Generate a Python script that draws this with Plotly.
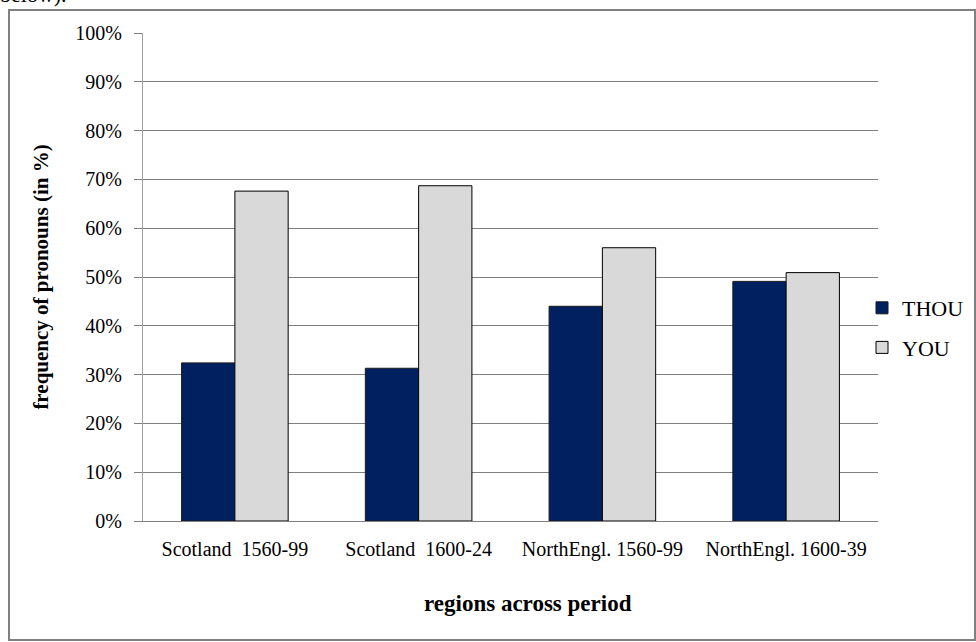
import plotly.graph_objects as go

# Share of THOU vs YOU pronouns per region and period
categories = ["Scotland  1560-99", "Scotland  1600-24", "NorthEngl. 1560-99", "NorthEngl. 1600-39"]
thou = [32.4, 31.3, 44.0, 49.1]
you = [67.6, 68.7, 56.0, 50.9]
y_ticks = [0, 10, 20, 30, 40, 50, 60, 70, 80, 90, 100]
y_tick_labels = [f"{v}%" for v in y_ticks]

W, H = 976, 642
L, R, T, B = 143, 98, 33, 121
pw, ph = W - L - R, H - T - B

def px_x(x):
    return (x - L) / pw

def px_y(y):
    return (H - B - y) / ph

serif = "Liberation Serif"

fig = go.Figure()
fig.add_trace(go.Bar(
    x=categories, y=thou, name="THOU", legendgroup="a",
    marker=dict(color="#002060", line=dict(color="#1a1a1a", width=1)),
))
fig.add_trace(go.Bar(
    x=categories, y=you, name="YOU", legendgroup="b",
    marker=dict(color="#D9D9D9", line=dict(color="#000000", width=1)),
))

fig.update_layout(
    width=W, height=H,
    margin=dict(l=L, r=R, t=T, b=B, autoexpand=False),
    paper_bgcolor="white", plot_bgcolor="white",
    barmode="group", bargap=0.42, bargroupgap=0,
    font=dict(family=serif, size=20, color="black"),
    showlegend=True,
    legend=dict(
        x=px_x(862), y=px_y(328), xanchor="left", yanchor="middle",
        traceorder="grouped", tracegroupgap=8,
        font=dict(family=serif, size=22, color="black"),
        itemwidth=30, bgcolor="rgba(0,0,0,0)",
    ),
    xaxis=dict(
        showline=True, linecolor="#808080", linewidth=1,
        ticks="", ticklabelstandoff=10,
        tickfont=dict(family=serif, size=20),
    ),
    yaxis=dict(
        range=[0, 100], tickvals=y_ticks, ticktext=y_tick_labels,
        showline=True, linecolor="#a0a0a0", linewidth=1,
        ticks="outside", ticklen=8, tickcolor="#808080",
        showgrid=True, gridcolor="#808080", gridwidth=1,
        zeroline=False, ticklabelstandoff=8,
        tickfont=dict(family=serif, size=20),
        title=dict(text="<b>frequency of pronouns (in %)</b>", standoff=20,
                   font=dict(family=serif, size=21)),
    ),
    shapes=[dict(
        type="rect", xref="paper", yref="paper",
        x0=px_x(9), x1=px_x(975), y0=px_y(640), y1=px_y(10),
        line=dict(color="#808080", width=2), fillcolor="rgba(0,0,0,0)",
        layer="below",
    )],
    annotations=[
        dict(
            text="<b>regions across period</b>", xref="paper", yref="paper",
            x=px_x(528), y=px_y(603), xanchor="center", yanchor="middle",
            showarrow=False, font=dict(family=serif, size=23, color="black"),
        ),
        dict(
            text="below).", xref="paper", yref="paper",
            x=px_x(-2), y=px_y(9), xanchor="left", yanchor="bottom",
            showarrow=False, font=dict(family=serif, size=22, color="black"),
        ),
    ],
)

fig.write_html("out.html")
